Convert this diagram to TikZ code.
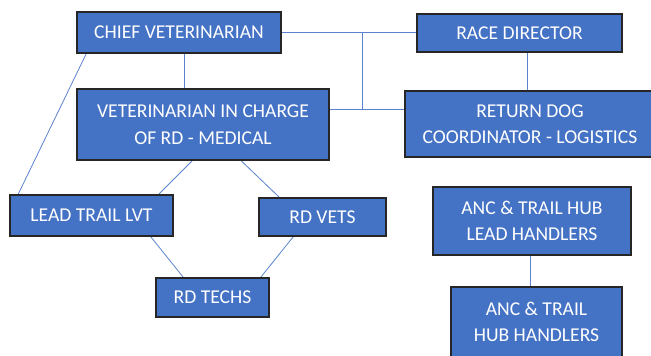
\documentclass[tikz,border=0pt]{standalone}
\usepackage{fontspec}
\setmainfont{Carlito}
\usetikzlibrary{positioning,calc,backgrounds}
\definecolor{orgblue}{RGB}{68,114,196}
\definecolor{orgline}{RGB}{90,130,205}

\begin{document}
\begin{tikzpicture}[
  x=1pt, y=-1pt,
  font=\fontsize{19.6}{26.5}\selectfont,
  role/.style={draw=black!85, line width=1.6pt, fill=orgblue, text=white,
               align=center, inner sep=1pt},
  link/.style={draw=orgline, line width=0.8pt},
]
\clip (0,0) rectangle (651,356);

% ---- top row ----
\node[role, minimum width=204, minimum height=41] (chief) at (179,32.5) {CHIEF VETERINARIAN};
\node[role, minimum width=205, minimum height=38] (race) at (519.5,33) {RACE DIRECTOR};

% ---- second row ----
\node[role, minimum width=252, minimum height=71] (vic) at (203,124.5)
  {VETERINARIAN IN CHARGE\\OF RD - MEDICAL};
\node[role, minimum width=250, minimum height=66] (rdc) at (530,124)
  {RETURN DOG\\COORDINATOR - LOGISTICS};

% ---- medical side ----
\node[role, minimum width=163, minimum height=41] (lvt) at (91.5,215.5) {LEAD TRAIL LVT};
\node[role, minimum width=127, minimum height=38] (vets) at (322.5,217) {RD VETS};
\node[role, minimum width=113, minimum height=39] (techs) at (212.5,297.5) {RD TECHS};

% ---- logistics side ----
\node[role, minimum width=198, minimum height=68] (lead) at (532,221)
  {ANC \& TRAIL HUB\\LEAD HANDLERS};
\node[role, minimum width=171, minimum height=70] (hub) at (536.5,322)
  {ANC \& TRAIL\\HUB HANDLERS};

% ---- junctions between the two columns ----
\coordinate (jt) at (362,32);
\coordinate (jb) at (362,109);

% ---- edges ----
\begin{scope}[on background layer]
\draw[link] (jt -| chief.east) -- (jt -| race.west);
\draw[link] (jb -| vic.east) -- (jb -| rdc.west);
\draw[link] (jt) -- (jb);
\draw[link] ([xshift=5]chief.south) -- ([xshift=5]chief.south |- vic.north);
\draw[link] ([xshift=7.5]race.south) -- ([xshift=7.5]race.south |- rdc.north);
\draw[link] ([xshift=10]chief.south west) -- ([xshift=9]lvt.north west);
\draw[link] ([xshift=116]vic.south west) -- ([xshift=-15]lvt.north east);
\draw[link] ([xshift=165]vic.south west) -- ([xshift=21]vets.north west);
\draw[link] ([xshift=-23]lvt.south east) -- ([xshift=28]techs.north west);
\draw[link] ([xshift=35]vets.south west) -- ([xshift=-9]techs.north east);
\draw[link] ([xshift=-2]lead.south) -- ([xshift=-2]lead.south |- hub.north);
\end{scope}

\end{tikzpicture}
\end{document}
